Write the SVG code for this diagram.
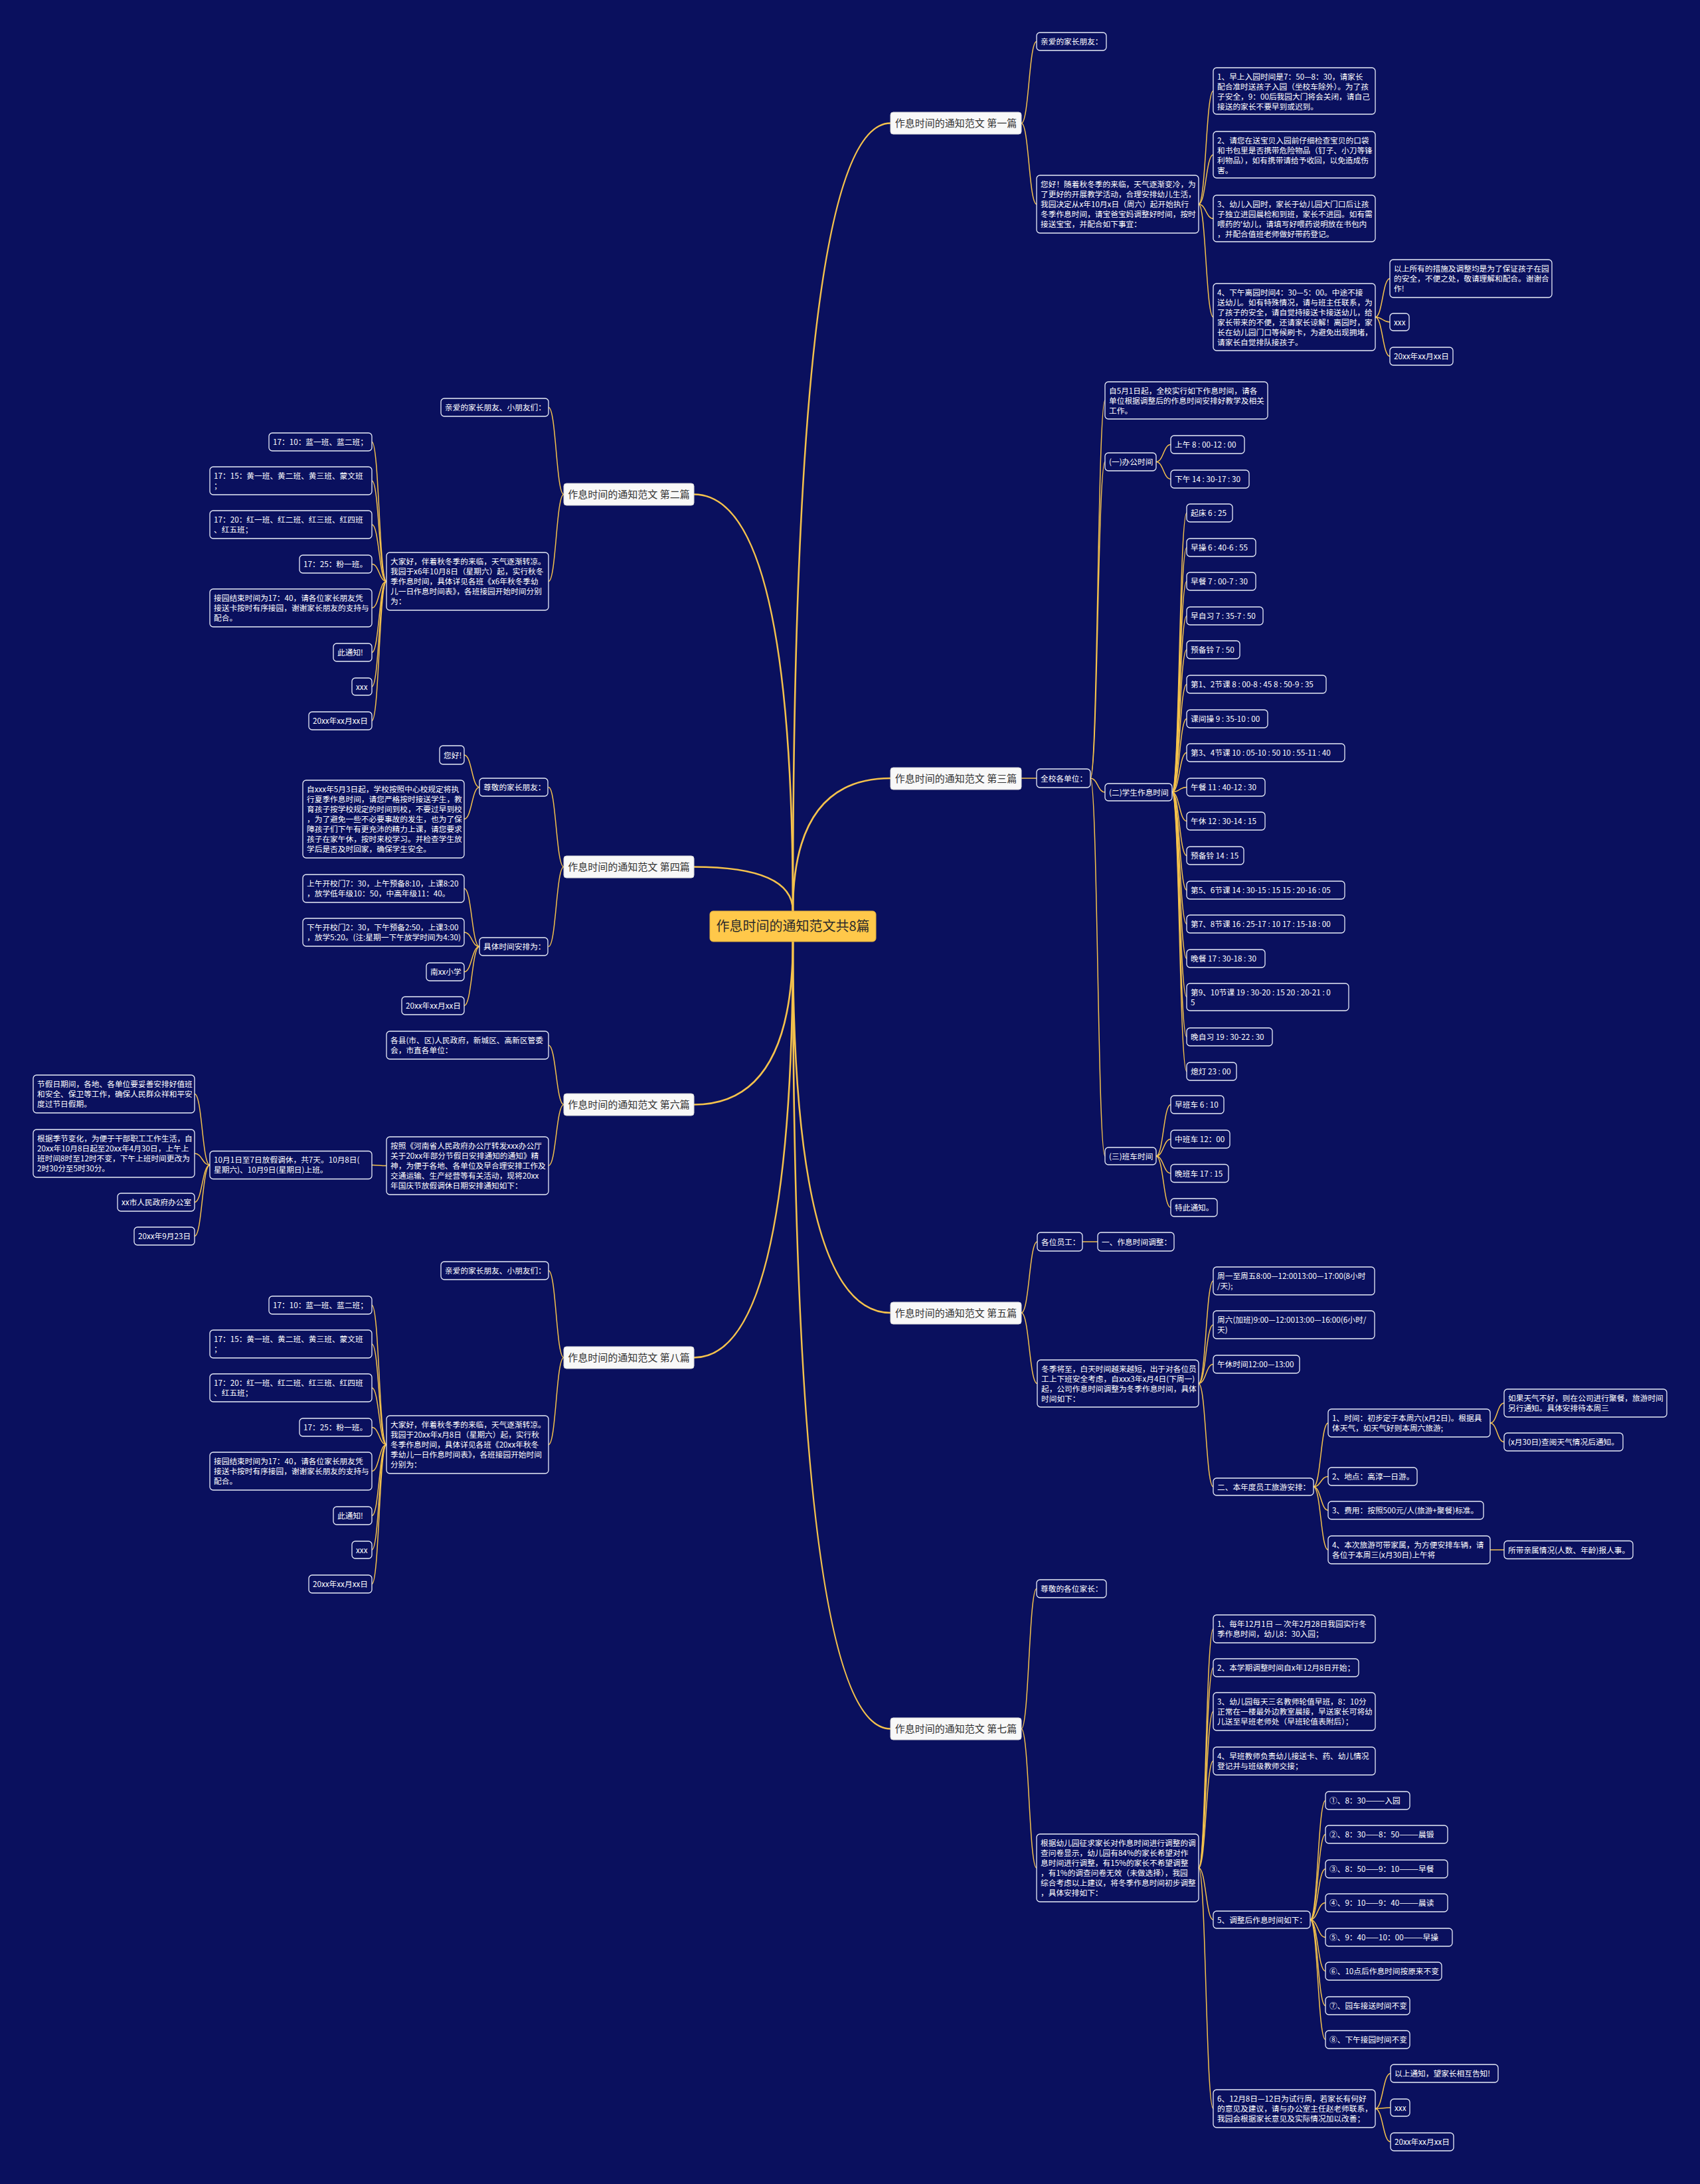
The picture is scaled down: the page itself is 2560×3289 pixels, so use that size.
<svg xmlns="http://www.w3.org/2000/svg" width="2560" height="3289" viewBox="0 0 2560 3289">
<style>
.bg{fill:#0A105E}
.n rect{fill:#0A105E;stroke:#E8ECF8;stroke-width:1.3}
.n text{font-family:"Noto Sans CJK SC","Noto Sans",sans-serif;font-size:11.7px;fill:#FFFFFF}
.s rect{fill:#F8F8F8;stroke:#D8D8D8;stroke-width:1}
.s text{font-family:"Noto Sans CJK SC","Noto Sans",sans-serif;font-size:15px;fill:#333333;text-anchor:middle}
.r rect{fill:#FFC84A;stroke:#E0AE3A;stroke-width:1}
.r text{font-family:"Noto Sans CJK SC","Noto Sans",sans-serif;font-size:20px;fill:#2B2B2B;text-anchor:middle}
.c path{fill:none;stroke:#F5C24C;stroke-width:1.5}
.c path.m{stroke-width:2.6}
</style>
<rect class="bg" x="0" y="0" width="2560" height="3289"/>

<g id="connectors" class="c">
<!-- root to sections -->
<path class="m" d="M1194,1372 Q1194,185.5 1341,185.5"/>
<path class="m" d="M1194,1372 Q1194,1172 1341,1172"/>
<path class="m" d="M1194,1418 Q1194,1977 1341,1977"/>
<path class="m" d="M1194,1418 Q1194,2603.5 1341,2603.5"/>
<path class="m" d="M1194,1372 Q1194,744.5 1045,744.5"/>
<path class="m" d="M1194,1372 Q1194,1305.5 1045,1305.5"/>
<path class="m" d="M1194,1418 Q1194,1663.5 1045,1663.5"/>
<path class="m" d="M1194,1418 Q1194,2044.5 1045,2044.5"/>
<!-- S1 -->
<path d="M1538,185.5 C1549.5,185.5 1549.5,62.5 1561,62.5"/>
<path d="M1538,185.5 C1549.5,185.5 1549.5,307.5 1561,307.5"/>
<path d="M1805,307.5 C1816,307.5 1816,137 1827,137"/>
<path d="M1805,307.5 C1816,307.5 1816,233 1827,233"/>
<path d="M1805,307.5 C1816,307.5 1816,329 1827,329"/>
<path d="M1805,307.5 C1816,307.5 1816,477.5 1827,477.5"/>
<path d="M2071,477.5 C2082,477.5 2082,419.5 2093,419.5"/>
<path d="M2071,477.5 C2082,477.5 2082,485 2093,485"/>
<path d="M2071,477.5 C2082,477.5 2082,536.5 2093,536.5"/>
<!-- S3 -->
<path d="M1538,1172 L1561,1172"/>
<path d="M1642,1172 C1653,1172 1653,603 1664,603"/>
<path d="M1642,1172 C1653,1172 1653,695.5 1664,695.5"/>
<path d="M1642,1172 C1653,1172 1653,1193 1664,1193"/>
<path d="M1642,1172 C1653,1172 1653,1741 1664,1741"/>
<path d="M1741,695.5 C1752,695.5 1752,669.5 1763,669.5"/>
<path d="M1741,695.5 C1752,695.5 1752,721.5 1763,721.5"/>
<path d="M1765,1193 C1776,1193 1776,772.5 1787,772.5"/>
<path d="M1765,1193 C1776,1193 1776,824.5 1787,824.5"/>
<path d="M1765,1193 C1776,1193 1776,875.5 1787,875.5"/>
<path d="M1765,1193 C1776,1193 1776,927.5 1787,927.5"/>
<path d="M1765,1193 C1776,1193 1776,978.5 1787,978.5"/>
<path d="M1765,1193 C1776,1193 1776,1030.5 1787,1030.5"/>
<path d="M1765,1193 C1776,1193 1776,1082.5 1787,1082.5"/>
<path d="M1765,1193 C1776,1193 1776,1133.5 1787,1133.5"/>
<path d="M1765,1193 C1776,1193 1776,1185.5 1787,1185.5"/>
<path d="M1765,1193 C1776,1193 1776,1236.5 1787,1236.5"/>
<path d="M1765,1193 C1776,1193 1776,1288.5 1787,1288.5"/>
<path d="M1765,1193 C1776,1193 1776,1340.5 1787,1340.5"/>
<path d="M1765,1193 C1776,1193 1776,1391.5 1787,1391.5"/>
<path d="M1765,1193 C1776,1193 1776,1443.5 1787,1443.5"/>
<path d="M1765,1193 C1776,1193 1776,1501.5 1787,1501.5"/>
<path d="M1765,1193 C1776,1193 1776,1561.5 1787,1561.5"/>
<path d="M1765,1193 C1776,1193 1776,1613.5 1787,1613.5"/>
<path d="M1741,1741 C1752,1741 1752,1663.5 1763,1663.5"/>
<path d="M1741,1741 C1752,1741 1752,1715.5 1763,1715.5"/>
<path d="M1741,1741 C1752,1741 1752,1767 1763,1767"/>
<path d="M1741,1741 C1752,1741 1752,1818.5 1763,1818.5"/>
<!-- S5 -->
<path d="M1538,1977 C1550,1977 1550,1870 1562,1870"/>
<path d="M1538,1977 C1550,1977 1550,2083.5 1562,2083.5"/>
<path d="M1630,1870 L1653,1870"/>
<path d="M1805,2083.5 C1816,2083.5 1816,1929 1827,1929"/>
<path d="M1805,2083.5 C1816,2083.5 1816,1995 1827,1995"/>
<path d="M1805,2083.5 C1816,2083.5 1816,2054.5 1827,2054.5"/>
<path d="M1805,2083.5 C1816,2083.5 1816,2239 1827,2239"/>
<path d="M1978,2239 C1989,2239 1989,2143 2000,2143"/>
<path d="M1978,2239 C1989,2239 1989,2223.5 2000,2223.5"/>
<path d="M1978,2239 C1989,2239 1989,2274.5 2000,2274.5"/>
<path d="M1978,2239 C1989,2239 1989,2334 2000,2334"/>
<path d="M2244,2143 C2254.5,2143 2254.5,2113 2265,2113"/>
<path d="M2244,2143 C2254.5,2143 2254.5,2171.5 2265,2171.5"/>
<path d="M2244,2334 L2265,2334"/>
<!-- S7 -->
<path d="M1538,2603.5 C1549.5,2603.5 1549.5,2392.5 1561,2392.5"/>
<path d="M1538,2603.5 C1549.5,2603.5 1549.5,2813 1561,2813"/>
<path d="M1805,2813 C1816,2813 1816,2453 1827,2453"/>
<path d="M1805,2813 C1816,2813 1816,2511.5 1827,2511.5"/>
<path d="M1805,2813 C1816,2813 1816,2577.5 1827,2577.5"/>
<path d="M1805,2813 C1816,2813 1816,2652 1827,2652"/>
<path d="M1805,2813 C1816,2813 1816,2891 1827,2891"/>
<path d="M1805,2813 C1816,2813 1816,3175.5 1827,3175.5"/>
<path d="M1973,2891 C1984.5,2891 1984.5,2711.5 1996,2711.5"/>
<path d="M1973,2891 C1984.5,2891 1984.5,2762.5 1996,2762.5"/>
<path d="M1973,2891 C1984.5,2891 1984.5,2814.5 1996,2814.5"/>
<path d="M1973,2891 C1984.5,2891 1984.5,2865.5 1996,2865.5"/>
<path d="M1973,2891 C1984.5,2891 1984.5,2917.5 1996,2917.5"/>
<path d="M1973,2891 C1984.5,2891 1984.5,2968.5 1996,2968.5"/>
<path d="M1973,2891 C1984.5,2891 1984.5,3020.5 1996,3020.5"/>
<path d="M1973,2891 C1984.5,2891 1984.5,3071.5 1996,3071.5"/>
<path d="M2071,3175.5 C2082.5,3175.5 2082.5,3122.5 2094,3122.5"/>
<path d="M2071,3175.5 C2082.5,3175.5 2082.5,3174 2094,3174"/>
<path d="M2071,3175.5 C2082.5,3175.5 2082.5,3225.5 2094,3225.5"/>
<!-- S2 -->
<path d="M849,744.5 C837.5,744.5 837.5,613.5 826,613.5"/>
<path d="M849,744.5 C837.5,744.5 837.5,875.5 826,875.5"/>
<path d="M582,875.5 C571,875.5 571,665.5 560,665.5"/>
<path d="M582,875.5 C571,875.5 571,724 560,724"/>
<path d="M582,875.5 C571,875.5 571,790 560,790"/>
<path d="M582,875.5 C571,875.5 571,849.5 560,849.5"/>
<path d="M582,875.5 C571,875.5 571,915.5 560,915.5"/>
<path d="M582,875.5 C571,875.5 571,982.5 560,982.5"/>
<path d="M582,875.5 C571,875.5 571,1034 560,1034"/>
<path d="M582,875.5 C571,875.5 571,1085.5 560,1085.5"/>
<!-- S4 -->
<path d="M849,1305.5 C837.5,1305.5 837.5,1185.5 826,1185.5"/>
<path d="M849,1305.5 C837.5,1305.5 837.5,1425.5 826,1425.5"/>
<path d="M722,1185.5 C710.5,1185.5 710.5,1137 699,1137"/>
<path d="M722,1185.5 C710.5,1185.5 710.5,1233.5 699,1233.5"/>
<path d="M722,1425.5 C710.5,1425.5 710.5,1338 699,1338"/>
<path d="M722,1425.5 C710.5,1425.5 710.5,1404 699,1404"/>
<path d="M722,1425.5 C710.5,1425.5 710.5,1463.5 699,1463.5"/>
<path d="M722,1425.5 C710.5,1425.5 710.5,1514.5 699,1514.5"/>
<!-- S6 -->
<path d="M849,1663.5 C837.5,1663.5 837.5,1574 826,1574"/>
<path d="M849,1663.5 C837.5,1663.5 837.5,1755.5 826,1755.5"/>
<path d="M582,1755.5 C571,1755.5 571,1754.5 560,1754.5"/>
<path d="M316,1754.5 C304.5,1754.5 304.5,1647.5 293,1647.5"/>
<path d="M316,1754.5 C304.5,1754.5 304.5,1737 293,1737"/>
<path d="M316,1754.5 C304.5,1754.5 304.5,1810.5 293,1810.5"/>
<path d="M316,1754.5 C304.5,1754.5 304.5,1861.5 293,1861.5"/>
<!-- S8 -->
<path d="M849,2044.5 C837.5,2044.5 837.5,1913.5 826,1913.5"/>
<path d="M849,2044.5 C837.5,2044.5 837.5,2175.5 826,2175.5"/>
<path d="M582,2175.5 C571,2175.5 571,1965.5 560,1965.5"/>
<path d="M582,2175.5 C571,2175.5 571,2024 560,2024"/>
<path d="M582,2175.5 C571,2175.5 571,2090 560,2090"/>
<path d="M582,2175.5 C571,2175.5 571,2149.5 560,2149.5"/>
<path d="M582,2175.5 C571,2175.5 571,2215.5 560,2215.5"/>
<path d="M582,2175.5 C571,2175.5 571,2282.5 560,2282.5"/>
<path d="M582,2175.5 C571,2175.5 571,2334 560,2334"/>
<path d="M582,2175.5 C571,2175.5 571,2385.5 560,2385.5"/>
</g>

<!-- root -->
<g id="n-root" class="r"><rect x="1069" y="1372" width="250" height="46" rx="5"/><text x="1194" y="1402">作息时间的通知范文共8篇</text></g>

<!-- sections -->
<g id="n-s1" class="s"><rect x="1341" y="169" width="197" height="33" rx="4"/><text x="1439.5" y="191">作息时间的通知范文 第一篇</text></g>
<g id="n-s2" class="s"><rect x="849" y="728" width="196" height="33" rx="4"/><text x="947" y="750">作息时间的通知范文 第二篇</text></g>
<g id="n-s3" class="s"><rect x="1341" y="1156" width="197" height="33" rx="4"/><text x="1439.5" y="1178">作息时间的通知范文 第三篇</text></g>
<g id="n-s4" class="s"><rect x="849" y="1289" width="196" height="33" rx="4"/><text x="947" y="1311">作息时间的通知范文 第四篇</text></g>
<g id="n-s5" class="s"><rect x="1341" y="1961" width="197" height="33" rx="4"/><text x="1439.5" y="1983">作息时间的通知范文 第五篇</text></g>
<g id="n-s6" class="s"><rect x="849" y="1647" width="196" height="33" rx="4"/><text x="947" y="1669">作息时间的通知范文 第六篇</text></g>
<g id="n-s7" class="s"><rect x="1341" y="2587" width="197" height="33" rx="4"/><text x="1439.5" y="2609">作息时间的通知范文 第七篇</text></g>
<g id="n-s8" class="s"><rect x="849" y="2028" width="196" height="33" rx="4"/><text x="947" y="2050">作息时间的通知范文 第八篇</text></g>

<!-- S1 nodes -->
<g id="n-s1-a" class="n"><rect x="1561" y="49" width="105" height="27" rx="5"/><text x="1567" y="67">亲爱的家长朋友：</text></g>
<g id="n-s1-b" class="n"><rect x="1561" y="264" width="244" height="87" rx="5"/><text x="1567" y="282">您好！随着秋冬季的来临，天气逐渐变冷，为<tspan x="1567" dy="15">了更好的开展教学活动，合理安排幼儿生活，</tspan><tspan x="1567" dy="15">我园决定从x年10月x日（周六）起开始执行</tspan><tspan x="1567" dy="15">冬季作息时间，请宝爸宝妈调整好时间，按时</tspan><tspan x="1567" dy="15">接送宝宝，并配合如下事宜：</tspan></text></g>
<g id="n-s1-b1" class="n"><rect x="1827" y="102" width="244" height="70" rx="5"/><text x="1833" y="119.5">1、早上入园时间是7：50—8：30，请家长<tspan x="1833" dy="15">配合准时送孩子入园（坐校车除外）。为了孩</tspan><tspan x="1833" dy="15">子安全，9：00后我园大门将会关闭，请自己</tspan><tspan x="1833" dy="15">接送的家长不要早到或迟到。</tspan></text></g>
<g id="n-s1-b2" class="n"><rect x="1827" y="198" width="244" height="70" rx="5"/><text x="1833" y="215.5">2、请您在送宝贝入园前仔细检查宝贝的口袋<tspan x="1833" dy="15">和书包里是否携带危险物品（钉子、小刀等锋</tspan><tspan x="1833" dy="15">利物品），如有携带请给予收回，以免造成伤</tspan><tspan x="1833" dy="15">害。</tspan></text></g>
<g id="n-s1-b3" class="n"><rect x="1827" y="294" width="244" height="70" rx="5"/><text x="1833" y="311.5">3、幼儿入园时，家长于幼儿园大门口后让孩<tspan x="1833" dy="15">子独立进园晨检和到班，家长不进园。如有需</tspan><tspan x="1833" dy="15">喂药的'幼儿，请填写好喂药说明放在书包内</tspan><tspan x="1833" dy="15">，并配合值班老师做好带药登记。</tspan></text></g>
<g id="n-s1-b4" class="n"><rect x="1827" y="427" width="244" height="101" rx="5"/><text x="1833" y="445">4、下午离园时间4：30—5：00。中途不接<tspan x="1833" dy="15">送幼儿。如有特殊情况，请与班主任联系，为</tspan><tspan x="1833" dy="15">了孩子的安全，请自觉持接送卡接送幼儿，给</tspan><tspan x="1833" dy="15">家长带来的不便，还请家长谅解！离园时，家</tspan><tspan x="1833" dy="15">长在幼儿园门口等候刷卡，为避免出现拥堵，</tspan><tspan x="1833" dy="15">请家长自觉排队接孩子。</tspan></text></g>
<g id="n-s1-b4a" class="n"><rect x="2093" y="391" width="244" height="57" rx="5"/><text x="2099" y="409">以上所有的措施及调整均是为了保证孩子在园<tspan x="2099" dy="15">的安全，不便之处，敬请理解和配合。谢谢合</tspan><tspan x="2099" dy="15">作!</tspan></text></g>
<g id="n-s1-b4b" class="n"><rect x="2093" y="472" width="29" height="26" rx="5"/><text x="2099" y="489.5">xxx</text></g>
<g id="n-s1-b4c" class="n"><rect x="2093" y="523" width="95" height="27" rx="5"/><text x="2099" y="541">20xx年xx月xx日</text></g>

<!-- S3 nodes -->
<g id="n-s3-a" class="n"><rect x="1561" y="1158" width="81" height="28" rx="5"/><text x="1567" y="1176.5">全校各单位：</text></g>
<g id="n-s3-a1" class="n"><rect x="1664" y="575" width="245" height="56" rx="5"/><text x="1670" y="592.5">自5月1日起，全校实行如下作息时间，请各<tspan x="1670" dy="15">单位根据调整后的作息时间安排好教学及相关</tspan><tspan x="1670" dy="15">工作。</tspan></text></g>
<g id="n-s3-a2" class="n"><rect x="1664" y="682" width="77" height="27" rx="5"/><text x="1670" y="700">(一)办公时间</text></g>
<g id="n-s3-a2a" class="n"><rect x="1763" y="656" width="111" height="27" rx="5"/><text x="1769" y="674">上午 8 : 00-12 : 00</text></g>
<g id="n-s3-a2b" class="n"><rect x="1763" y="708" width="118" height="27" rx="5"/><text x="1769" y="726">下午 14 : 30-17 : 30</text></g>
<g id="n-s3-a3" class="n"><rect x="1664" y="1180" width="101" height="26" rx="5"/><text x="1670" y="1197.5">(二)学生作息时间</text></g>
<g id="n-s3-a3-1" class="n"><rect x="1787" y="759" width="69" height="27" rx="5"/><text x="1793" y="777">起床 6 : 25</text></g>
<g id="n-s3-a3-2" class="n"><rect x="1787" y="811" width="104" height="27" rx="5"/><text x="1793" y="829">早操 6 : 40-6 : 55</text></g>
<g id="n-s3-a3-3" class="n"><rect x="1787" y="862" width="104" height="27" rx="5"/><text x="1793" y="880">早餐 7 : 00-7 : 30</text></g>
<g id="n-s3-a3-4" class="n"><rect x="1787" y="914" width="115" height="27" rx="5"/><text x="1793" y="932">早自习 7 : 35-7 : 50</text></g>
<g id="n-s3-a3-5" class="n"><rect x="1787" y="965" width="80" height="27" rx="5"/><text x="1793" y="983">预备铃 7 : 50</text></g>
<g id="n-s3-a3-6" class="n"><rect x="1787" y="1017" width="210" height="27" rx="5"/><text x="1793" y="1035">第1、2节课 8 : 00-8 : 45 8 : 50-9 : 35</text></g>
<g id="n-s3-a3-7" class="n"><rect x="1787" y="1069" width="122" height="27" rx="5"/><text x="1793" y="1087">课间操 9 : 35-10 : 00</text></g>
<g id="n-s3-a3-8" class="n"><rect x="1787" y="1120" width="238" height="27" rx="5"/><text x="1793" y="1138">第3、4节课 10 : 05-10 : 50 10 : 55-11 : 40</text></g>
<g id="n-s3-a3-9" class="n"><rect x="1787" y="1172" width="118" height="27" rx="5"/><text x="1793" y="1190">午餐 11 : 40-12 : 30</text></g>
<g id="n-s3-a3-10" class="n"><rect x="1787" y="1223" width="118" height="27" rx="5"/><text x="1793" y="1241">午休 12 : 30-14 : 15</text></g>
<g id="n-s3-a3-11" class="n"><rect x="1787" y="1275" width="86" height="27" rx="5"/><text x="1793" y="1293">预备铃 14 : 15</text></g>
<g id="n-s3-a3-12" class="n"><rect x="1787" y="1327" width="238" height="27" rx="5"/><text x="1793" y="1345">第5、6节课 14 : 30-15 : 15 15 : 20-16 : 05</text></g>
<g id="n-s3-a3-13" class="n"><rect x="1787" y="1378" width="238" height="27" rx="5"/><text x="1793" y="1396">第7、8节课 16 : 25-17 : 10 17 : 15-18 : 00</text></g>
<g id="n-s3-a3-14" class="n"><rect x="1787" y="1430" width="118" height="27" rx="5"/><text x="1793" y="1448">晚餐 17 : 30-18 : 30</text></g>
<g id="n-s3-a3-15" class="n"><rect x="1787" y="1481" width="244" height="41" rx="5"/><text x="1793" y="1498.5">第9、10节课 19 : 30-20 : 15 20 : 20-21 : 0<tspan x="1793" dy="15">5</tspan></text></g>
<g id="n-s3-a3-16" class="n"><rect x="1787" y="1548" width="129" height="27" rx="5"/><text x="1793" y="1566">晚自习 19 : 30-22 : 30</text></g>
<g id="n-s3-a3-17" class="n"><rect x="1787" y="1600" width="75" height="27" rx="5"/><text x="1793" y="1618">熄灯 23 : 00</text></g>
<g id="n-s3-a4" class="n"><rect x="1664" y="1728" width="77" height="26" rx="5"/><text x="1670" y="1745.5">(三)班车时间</text></g>
<g id="n-s3-a4a" class="n"><rect x="1763" y="1650" width="80" height="27" rx="5"/><text x="1769" y="1668">早班车 6 : 10</text></g>
<g id="n-s3-a4b" class="n"><rect x="1763" y="1702" width="89" height="27" rx="5"/><text x="1769" y="1720">中班车 12：00</text></g>
<g id="n-s3-a4c" class="n"><rect x="1763" y="1753.5" width="87" height="27" rx="5"/><text x="1769" y="1771.5">晚班车 17 : 15</text></g>
<g id="n-s3-a4d" class="n"><rect x="1763" y="1805" width="70" height="27" rx="5"/><text x="1769" y="1823">特此通知。</text></g>

<!-- S5 nodes -->
<g id="n-s5-a" class="n"><rect x="1562" y="1856" width="68" height="28" rx="5"/><text x="1568" y="1874.5">各位员工：</text></g>
<g id="n-s5-a1" class="n"><rect x="1653" y="1856" width="115" height="28" rx="5"/><text x="1659" y="1874.5">一、作息时间调整：</text></g>
<g id="n-s5-b" class="n"><rect x="1562" y="2048" width="243" height="71" rx="5"/><text x="1568" y="2065.5">冬季将至，白天时间越来越短，出于对各位员<tspan x="1568" dy="15">工上下班安全考虑，自xxx3年x月4日(下周一)</tspan><tspan x="1568" dy="15">起，公司作息时间调整为冬季作息时间，具体</tspan><tspan x="1568" dy="15">时间如下：</tspan></text></g>
<g id="n-s5-b1" class="n"><rect x="1827" y="1908" width="243" height="42" rx="5"/><text x="1833" y="1925.5">周一至周五8:00—12:0013:00—17:00(8小时<tspan x="1833" dy="15">/天);</tspan></text></g>
<g id="n-s5-b2" class="n"><rect x="1827" y="1974" width="243" height="42" rx="5"/><text x="1833" y="1991.5">周六(加班)9:00—12:0013:00—16:00(6小时/<tspan x="1833" dy="15">天)</tspan></text></g>
<g id="n-s5-b3" class="n"><rect x="1827" y="2041" width="130" height="27" rx="5"/><text x="1833" y="2059">午休时间12:00—13:00</text></g>
<g id="n-s5-b4" class="n"><rect x="1827" y="2226" width="151" height="26" rx="5"/><text x="1833" y="2243.5">二、本年度员工旅游安排：</text></g>
<g id="n-s5-b4a" class="n"><rect x="2000" y="2122" width="244" height="42" rx="5"/><text x="2006" y="2139.5">1、时间：初步定于本周六(x月2日)。根据具<tspan x="2006" dy="15">体天气，如天气好则本周六旅游;</tspan></text></g>
<g id="n-s5-b4a1" class="n"><rect x="2265" y="2092" width="245" height="42" rx="5"/><text x="2271" y="2109.5">如果天气不好，则在公司进行聚餐，旅游时间<tspan x="2271" dy="15">另行通知。具体安排待本周三</tspan></text></g>
<g id="n-s5-b4a2" class="n"><rect x="2265" y="2158" width="179" height="27" rx="5"/><text x="2271" y="2176">(x月30日)查阅天气情况后通知。</text></g>
<g id="n-s5-b4b" class="n"><rect x="2000" y="2210" width="134" height="27" rx="5"/><text x="2006" y="2228">2、地点：高淳一日游。</text></g>
<g id="n-s5-b4c" class="n"><rect x="2000" y="2261" width="234" height="27" rx="5"/><text x="2006" y="2279">3、费用：按照500元/人(旅游+聚餐)标准。</text></g>
<g id="n-s5-b4d" class="n"><rect x="2000" y="2313" width="244" height="42" rx="5"/><text x="2006" y="2330.5">4、本次旅游可带家属，为方便安排车辆，请<tspan x="2006" dy="15">各位于本周三(x月30日)上午将</tspan></text></g>
<g id="n-s5-b4d1" class="n"><rect x="2265" y="2320.5" width="194" height="27" rx="5"/><text x="2271" y="2338.5">所带亲属情况(人数、年龄)报人事。</text></g>

<!-- S7 nodes -->
<g id="n-s7-a" class="n"><rect x="1561" y="2379" width="105" height="27" rx="5"/><text x="1567" y="2397">尊敬的各位家长：</text></g>
<g id="n-s7-b" class="n"><rect x="1561" y="2762" width="244" height="102" rx="5"/><text x="1567" y="2780">根据幼儿园征求家长对作息时间进行调整的调<tspan x="1567" dy="15">查问卷显示，幼儿园有84%的家长希望对作</tspan><tspan x="1567" dy="15">息时间进行调整，有15%的家长不希望调整</tspan><tspan x="1567" dy="15">，有1%的调查问卷无效（未做选择），我园</tspan><tspan x="1567" dy="15">综合考虑以上建议，将冬季作息时间初步调整</tspan><tspan x="1567" dy="15">，具体安排如下：</tspan></text></g>
<g id="n-s7-b1" class="n"><rect x="1827" y="2432" width="244" height="42" rx="5"/><text x="1833" y="2449.5">1、每年12月1日 — 次年2月28日我园实行冬<tspan x="1833" dy="15">季作息时间，幼儿8：30入园；</tspan></text></g>
<g id="n-s7-b2" class="n"><rect x="1827" y="2498" width="219" height="27" rx="5"/><text x="1833" y="2516">2、本学期调整时间自x年12月8日开始；</text></g>
<g id="n-s7-b3" class="n"><rect x="1827" y="2549" width="244" height="57" rx="5"/><text x="1833" y="2566.5">3、幼儿园每天三名教师轮值早班，8：10分<tspan x="1833" dy="15">正常在一楼最外边教室晨接，早送家长可将幼</tspan><tspan x="1833" dy="15">儿送至早班老师处（早班轮值表附后）；</tspan></text></g>
<g id="n-s7-b4" class="n"><rect x="1827" y="2631" width="244" height="42" rx="5"/><text x="1833" y="2648.5">4、早班教师负责幼儿接送卡、药、幼儿情况<tspan x="1833" dy="15">登记并与班级教师交接；</tspan></text></g>
<g id="n-s7-b5" class="n"><rect x="1827" y="2878" width="146" height="26" rx="5"/><text x="1833" y="2895.5">5、调整后作息时间如下：</text></g>
<g id="n-s7-b5-1" class="n"><rect x="1996" y="2698" width="127" height="27" rx="5"/><text x="2002" y="2716">①、8：30———入园</text></g>
<g id="n-s7-b5-2" class="n"><rect x="1996" y="2749" width="184" height="27" rx="5"/><text x="2002" y="2767">②、8：30——8：50———晨锻</text></g>
<g id="n-s7-b5-3" class="n"><rect x="1996" y="2801" width="184" height="27" rx="5"/><text x="2002" y="2819">③、8：50——9：10———早餐</text></g>
<g id="n-s7-b5-4" class="n"><rect x="1996" y="2852" width="184" height="27" rx="5"/><text x="2002" y="2870">④、9：10——9：40———晨读</text></g>
<g id="n-s7-b5-5" class="n"><rect x="1996" y="2904" width="191" height="27" rx="5"/><text x="2002" y="2922">⑤、9：40——10：00———早操</text></g>
<g id="n-s7-b5-6" class="n"><rect x="1996" y="2955" width="175" height="27" rx="5"/><text x="2002" y="2973">⑥、10点后作息时间按原来不变</text></g>
<g id="n-s7-b5-7" class="n"><rect x="1996" y="3007" width="127" height="27" rx="5"/><text x="2002" y="3025">⑦、园车接送时间不变</text></g>
<g id="n-s7-b5-8" class="n"><rect x="1996" y="3058" width="127" height="27" rx="5"/><text x="2002" y="3076">⑧、下午接园时间不变</text></g>
<g id="n-s7-b6" class="n"><rect x="1827" y="3147" width="244" height="57" rx="5"/><text x="1833" y="3164.5">6、12月8日—12日为试行周，若家长有何好<tspan x="1833" dy="15">的意见及建议，请与办公室主任赵老师联系，</tspan><tspan x="1833" dy="15">我园会根据家长意见及实际情况加以改善；</tspan></text></g>
<g id="n-s7-b6a" class="n"><rect x="2094" y="3109" width="162" height="27" rx="5"/><text x="2100" y="3127">以上通知，望家长相互告知!</text></g>
<g id="n-s7-b6b" class="n"><rect x="2094" y="3161" width="29" height="26" rx="5"/><text x="2100" y="3178.5">xxx</text></g>
<g id="n-s7-b6c" class="n"><rect x="2094" y="3212" width="95" height="27" rx="5"/><text x="2100" y="3230">20xx年xx月xx日</text></g>

<!-- S2 nodes -->
<g id="n-s2-a" class="n"><rect x="664" y="600" width="162" height="27" rx="5"/><text x="670" y="618">亲爱的家长朋友、小朋友们：</text></g>
<g id="n-s2-b" class="n"><rect x="582" y="832" width="244" height="87" rx="5"/><text x="588" y="850">大家好，伴着秋冬季的来临，天气逐渐转凉。<tspan x="588" dy="15">我园于x6年10月8日（星期六）起，实行秋冬</tspan><tspan x="588" dy="15">季作息时间，具体详见各班《x6年秋冬季幼</tspan><tspan x="588" dy="15">儿一日作息时间表》，各班接园开始时间分别</tspan><tspan x="588" dy="15">为：</tspan></text></g>
<g id="n-s2-b1" class="n"><rect x="405" y="652" width="155" height="27" rx="5"/><text x="411" y="670">17：10：蓝一班、蓝二班；</text></g>
<g id="n-s2-b2" class="n"><rect x="316" y="703" width="244" height="42" rx="5"/><text x="322" y="720.5">17：15：黄一班、黄二班、黄三班、蒙文班<tspan x="322" dy="15">；</tspan></text></g>
<g id="n-s2-b3" class="n"><rect x="316" y="769" width="244" height="42" rx="5"/><text x="322" y="786.5">17：20：红一班、红二班、红三班、红四班<tspan x="322" dy="15">、红五班；</tspan></text></g>
<g id="n-s2-b4" class="n"><rect x="451" y="836" width="109" height="27" rx="5"/><text x="457" y="854">17：25：粉一班。</text></g>
<g id="n-s2-b5" class="n"><rect x="316" y="887" width="244" height="57" rx="5"/><text x="322" y="904.5">接园结束时间为17：40，请各位家长朋友凭<tspan x="322" dy="15">接送卡按时有序接园，谢谢家长朋友的支持与</tspan><tspan x="322" dy="15">配合。</tspan></text></g>
<g id="n-s2-b6" class="n"><rect x="502" y="969" width="58" height="27" rx="5"/><text x="508" y="987">此通知!</text></g>
<g id="n-s2-b7" class="n"><rect x="530" y="1021" width="30" height="26" rx="5"/><text x="536" y="1038.5">xxx</text></g>
<g id="n-s2-b8" class="n"><rect x="465" y="1072" width="95" height="27" rx="5"/><text x="471" y="1090">20xx年xx月xx日</text></g>

<!-- S4 nodes -->
<g id="n-s4-a" class="n"><rect x="722" y="1172" width="103" height="27" rx="5"/><text x="728" y="1190">尊敬的家长朋友：</text></g>
<g id="n-s4-a1" class="n"><rect x="662" y="1123" width="37" height="28" rx="5"/><text x="668" y="1141.5">您好!</text></g>
<g id="n-s4-a2" class="n"><rect x="456" y="1175" width="243" height="117" rx="5"/><text x="462" y="1193">自xxx年5月3日起，学校按照中心校规定将执<tspan x="462" dy="15">行夏季作息时间，请您严格按时接送学生，教</tspan><tspan x="462" dy="15">育孩子按学校规定的时间到校，不要过早到校</tspan><tspan x="462" dy="15">，为了避免一些不必要事故的发生，也为了保</tspan><tspan x="462" dy="15">障孩子们下午有更充沛的精力上课，请您要求</tspan><tspan x="462" dy="15">孩子在家午休，按时来校学习。并检查学生放</tspan><tspan x="462" dy="15">学后是否及时回家，确保学生安全。</tspan></text></g>
<g id="n-s4-b" class="n"><rect x="722" y="1412" width="103" height="27" rx="5"/><text x="728" y="1430">具体时间安排为：</text></g>
<g id="n-s4-b1" class="n"><rect x="456" y="1317" width="243" height="42" rx="5"/><text x="462" y="1334.5">上午开校门7：30，上午预备8:10，上课8:20<tspan x="462" dy="15">，放学低年级10：50，中高年级11：40。</tspan></text></g>
<g id="n-s4-b2" class="n"><rect x="456" y="1383" width="243" height="42" rx="5"/><text x="462" y="1400.5">下午开校门2：30，下午预备2:50，上课3:00<tspan x="462" dy="15">，放学5:20。(注:星期一下午放学时间为4:30)</tspan></text></g>
<g id="n-s4-b3" class="n"><rect x="642" y="1450" width="57" height="27" rx="5"/><text x="648" y="1468">南xx小学</text></g>
<g id="n-s4-b4" class="n"><rect x="605" y="1501" width="94" height="27" rx="5"/><text x="611" y="1519">20xx年xx月xx日</text></g>

<!-- S6 nodes -->
<g id="n-s6-a" class="n"><rect x="582" y="1553" width="244" height="42" rx="5"/><text x="588" y="1570.5">各县(市、区)人民政府，新城区、高新区管委<tspan x="588" dy="15">会，市直各单位：</tspan></text></g>
<g id="n-s6-b" class="n"><rect x="582" y="1712" width="244" height="87" rx="5"/><text x="588" y="1730">按照《河南省人民政府办公厅转发xxx办公厅<tspan x="588" dy="15">关于20xx年部分节假日安排通知的通知》精</tspan><tspan x="588" dy="15">神，为便于各地、各单位及早合理安排工作及</tspan><tspan x="588" dy="15">交通运输、生产经营等有关活动，现将20xx</tspan><tspan x="588" dy="15">年国庆节放假调休日期安排通知如下：</tspan></text></g>
<g id="n-s6-b1" class="n"><rect x="316" y="1733.5" width="244" height="42" rx="5"/><text x="322" y="1751">10月1日至7日放假调休，共7天。10月8日(<tspan x="322" dy="15">星期六)、10月9日(星期日)上班。</tspan></text></g>
<g id="n-s6-b1a" class="n"><rect x="50" y="1619" width="243" height="57" rx="5"/><text x="56" y="1636.5">节假日期间，各地、各单位要妥善安排好值班<tspan x="56" dy="15">和安全、保卫等工作，确保人民群众祥和平安</tspan><tspan x="56" dy="15">度过节日假期。</tspan></text></g>
<g id="n-s6-b1b" class="n"><rect x="50" y="1701" width="243" height="72" rx="5"/><text x="56" y="1718.5">根据季节变化，为便于干部职工工作生活，自<tspan x="56" dy="15">20xx年10月8日起至20xx年4月30日，上午上</tspan><tspan x="56" dy="15">班时间8时至12时不变，下午上班时间更改为</tspan><tspan x="56" dy="15">2时30分至5时30分。</tspan></text></g>
<g id="n-s6-b1c" class="n"><rect x="177" y="1797" width="116" height="27" rx="5"/><text x="183" y="1815">xx市人民政府办公室</text></g>
<g id="n-s6-b1d" class="n"><rect x="202" y="1848" width="91" height="27" rx="5"/><text x="208" y="1866">20xx年9月23日</text></g>

<!-- S8 nodes -->
<g id="n-s8-a" class="n"><rect x="664" y="1900" width="162" height="27" rx="5"/><text x="670" y="1918">亲爱的家长朋友、小朋友们：</text></g>
<g id="n-s8-b" class="n"><rect x="582" y="2132" width="244" height="87" rx="5"/><text x="588" y="2150">大家好，伴着秋冬季的来临，天气逐渐转凉。<tspan x="588" dy="15">我园于20xx年x月8日（星期六）起，实行秋</tspan><tspan x="588" dy="15">冬季作息时间，具体详见各班《20xx年秋冬</tspan><tspan x="588" dy="15">季幼儿一日作息时间表》，各班接园开始时间</tspan><tspan x="588" dy="15">分别为：</tspan></text></g>
<g id="n-s8-b1" class="n"><rect x="405" y="1952" width="155" height="27" rx="5"/><text x="411" y="1970">17：10：蓝一班、蓝二班；</text></g>
<g id="n-s8-b2" class="n"><rect x="316" y="2003" width="244" height="42" rx="5"/><text x="322" y="2020.5">17：15：黄一班、黄二班、黄三班、蒙文班<tspan x="322" dy="15">；</tspan></text></g>
<g id="n-s8-b3" class="n"><rect x="316" y="2069" width="244" height="42" rx="5"/><text x="322" y="2086.5">17：20：红一班、红二班、红三班、红四班<tspan x="322" dy="15">、红五班；</tspan></text></g>
<g id="n-s8-b4" class="n"><rect x="451" y="2136" width="109" height="27" rx="5"/><text x="457" y="2154">17：25：粉一班。</text></g>
<g id="n-s8-b5" class="n"><rect x="316" y="2187" width="244" height="57" rx="5"/><text x="322" y="2204.5">接园结束时间为17：40，请各位家长朋友凭<tspan x="322" dy="15">接送卡按时有序接园，谢谢家长朋友的支持与</tspan><tspan x="322" dy="15">配合。</tspan></text></g>
<g id="n-s8-b6" class="n"><rect x="502" y="2269" width="58" height="27" rx="5"/><text x="508" y="2287">此通知!</text></g>
<g id="n-s8-b7" class="n"><rect x="530" y="2321" width="30" height="26" rx="5"/><text x="536" y="2338.5">xxx</text></g>
<g id="n-s8-b8" class="n"><rect x="465" y="2372" width="95" height="27" rx="5"/><text x="471" y="2390">20xx年xx月xx日</text></g>
</svg>
